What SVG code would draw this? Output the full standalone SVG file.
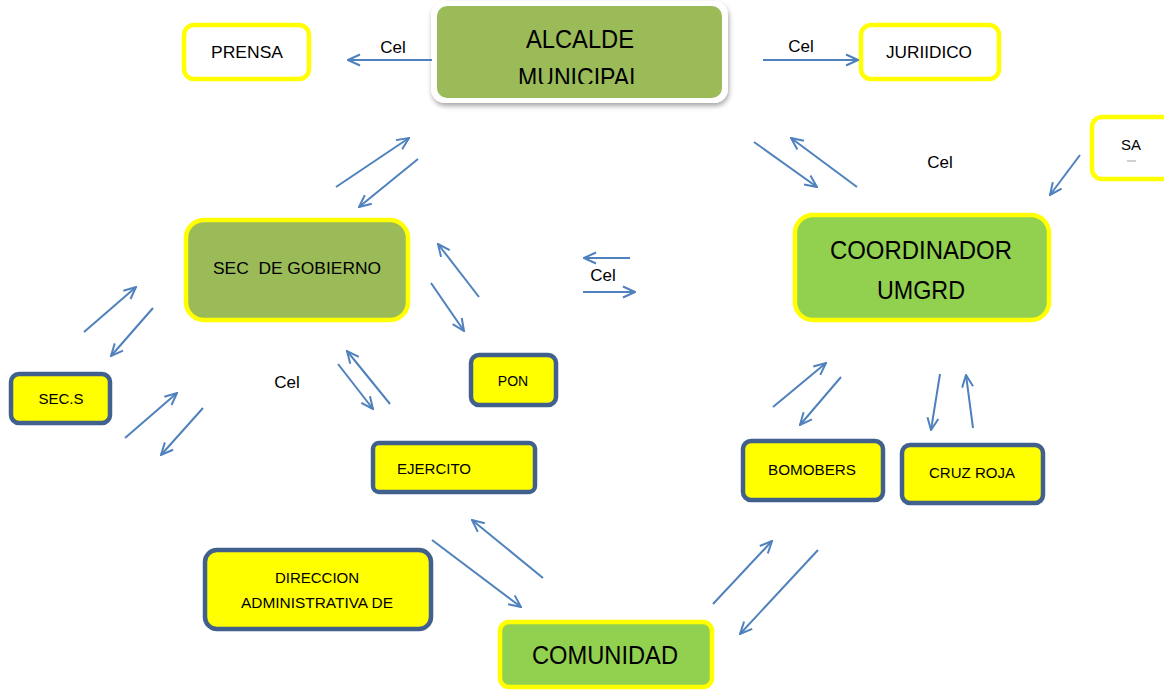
<svg xmlns="http://www.w3.org/2000/svg" width="1164" height="690" viewBox="0 0 1164 690">
<defs>
<marker id="ah" viewBox="0 0 14 14" refX="13" refY="7" markerWidth="14" markerHeight="14" markerUnits="userSpaceOnUse" orient="auto">
<polyline points="1,1.5 13,7 1,12.5" fill="none" stroke="#4F81BD" stroke-width="2"/>
</marker>
<filter id="sh" x="-10%" y="-10%" width="120%" height="130%">
<feDropShadow dx="1" dy="3" stdDeviation="2.5" flood-color="#000" flood-opacity="0.35"/>
</filter>
<clipPath id="clipA"><rect x="437" y="6" width="285" height="78"/></clipPath>
</defs>
<style>
text{font-family:"Liberation Sans",Arial,sans-serif;fill:#000;text-anchor:middle}
.ly{stroke:#FFFF00;stroke-width:4.5}
.lb{stroke:#41608E;stroke-width:4.5;fill:#FFFF00}
.g1{fill:#9BBB59}
.g2{fill:#92D050}
.w{fill:#fff}
.c line{stroke:#4F81BD;stroke-width:2;marker-end:url(#ah)}
</style>
<rect width="1164" height="690" fill="#fff"/>

<g id="alcalde">
<rect x="431" y="1" width="297" height="102" rx="14" fill="#fff" filter="url(#sh)"/>
<rect x="437" y="6" width="285" height="92" rx="10" class="g1"/>
<g clip-path="url(#clipA)">
<text x="580" y="48" font-size="26" textLength="108" lengthAdjust="spacingAndGlyphs">ALCALDE</text>
<text x="580" y="86" font-size="26" textLength="124" lengthAdjust="spacingAndGlyphs">MUNICIPAL</text>
</g>
</g>

<g id="prensa">
<rect x="184" y="25" width="125" height="54" rx="10" class="ly w"/>
<text x="247" y="58" font-size="17" textLength="72" lengthAdjust="spacingAndGlyphs">PRENSA</text>
</g>

<g id="juridico">
<rect x="861" y="25" width="138" height="54" rx="10" class="ly w"/>
<text x="929" y="58" font-size="17" textLength="86" lengthAdjust="spacingAndGlyphs">JURIIDICO</text>
</g>

<g id="sa">
<rect x="1092" y="117" width="80" height="62" rx="10" class="ly w"/>
<text x="1131" y="150" font-size="15">SA</text>
<line x1="1127" y1="161" x2="1136" y2="161" stroke="#888" stroke-width="0.8"/>
</g>

<g id="coordinador">
<rect x="795" y="215" width="254" height="105" rx="18" class="ly g2"/>
<text x="921" y="259" font-size="26" textLength="182" lengthAdjust="spacingAndGlyphs">COORDINADOR</text>
<text x="921" y="299" font-size="26" textLength="88" lengthAdjust="spacingAndGlyphs">UMGRD</text>
</g>

<g id="sec-gobierno">
<rect x="186" y="220" width="222" height="100" rx="18" class="ly g1"/>
<text x="297" y="274" font-size="17" xml:space="preserve" textLength="168" lengthAdjust="spacingAndGlyphs">SEC  DE GOBIERNO</text>
</g>

<g id="pon">
<rect x="471" y="355" width="85" height="50" rx="8" class="lb"/>
<text x="513" y="386" font-size="14">PON</text>
</g>

<g id="secs">
<rect x="11" y="374" width="99" height="49" rx="8" class="lb"/>
<text x="61" y="404" font-size="15">SEC.S</text>
</g>

<g id="ejercito">
<rect x="373" y="443" width="162" height="49" rx="6" class="lb"/>
<text x="434" y="474" font-size="15" textLength="74" lengthAdjust="spacingAndGlyphs">EJERCITO</text>
</g>

<g id="bomobers">
<rect x="743" y="441" width="140" height="59" rx="8" class="lb"/>
<text x="812" y="475" font-size="15" textLength="88" lengthAdjust="spacingAndGlyphs">BOMOBERS</text>
</g>

<g id="cruzroja">
<rect x="902" y="445" width="141" height="58" rx="8" class="lb"/>
<text x="972" y="478" font-size="15" textLength="86" lengthAdjust="spacingAndGlyphs">CRUZ ROJA</text>
</g>

<g id="direccion">
<rect x="205" y="550" width="226" height="79" rx="12" class="lb"/>
<text x="317" y="583" font-size="15">DIRECCION</text>
<text x="317" y="608" font-size="15" textLength="152" lengthAdjust="spacingAndGlyphs">ADMINISTRATIVA DE</text>
</g>

<g id="comunidad">
<rect x="500" y="622" width="212" height="65" rx="9" class="ly g2"/>
<text x="605" y="664" font-size="25" textLength="146" lengthAdjust="spacingAndGlyphs">COMUNIDAD</text>
</g>

<g id="connectors" class="c">
<line x1="432" y1="60" x2="348" y2="60"/>
<line x1="763" y1="60" x2="858" y2="60"/>
<line x1="1080" y1="155" x2="1050" y2="195"/>
<line x1="754" y1="142" x2="817" y2="187"/>
<line x1="857" y1="187" x2="791" y2="138"/>
<line x1="336" y1="187" x2="409" y2="138"/>
<line x1="418" y1="159" x2="359" y2="207"/>
<line x1="630" y1="258" x2="584" y2="258"/>
<line x1="583" y1="292" x2="635" y2="292"/>
<line x1="479" y1="297" x2="438" y2="244"/>
<line x1="431" y1="283" x2="464" y2="331"/>
<line x1="84" y1="332" x2="136" y2="287"/>
<line x1="153" y1="308" x2="111" y2="356"/>
<line x1="125" y1="438" x2="177" y2="393"/>
<line x1="203" y1="408" x2="161" y2="455"/>
<line x1="338" y1="364" x2="373" y2="409"/>
<line x1="390" y1="404" x2="347" y2="351"/>
<line x1="543" y1="578" x2="472" y2="520"/>
<line x1="432" y1="540" x2="521" y2="607"/>
<line x1="713" y1="604" x2="772" y2="541"/>
<line x1="818" y1="550" x2="740" y2="634"/>
<line x1="773" y1="407" x2="826" y2="363"/>
<line x1="841" y1="377" x2="800" y2="425"/>
<line x1="940" y1="374" x2="931" y2="430"/>
<line x1="973" y1="428" x2="966" y2="375"/>
</g>

<g id="labels">
<text x="393" y="53" font-size="17">Cel</text>
<text x="801" y="52" font-size="17">Cel</text>
<text x="940" y="168" font-size="17">Cel</text>
<text x="603" y="281" font-size="17">Cel</text>
<text x="287" y="388" font-size="17">Cel</text>
</g>
</svg>
